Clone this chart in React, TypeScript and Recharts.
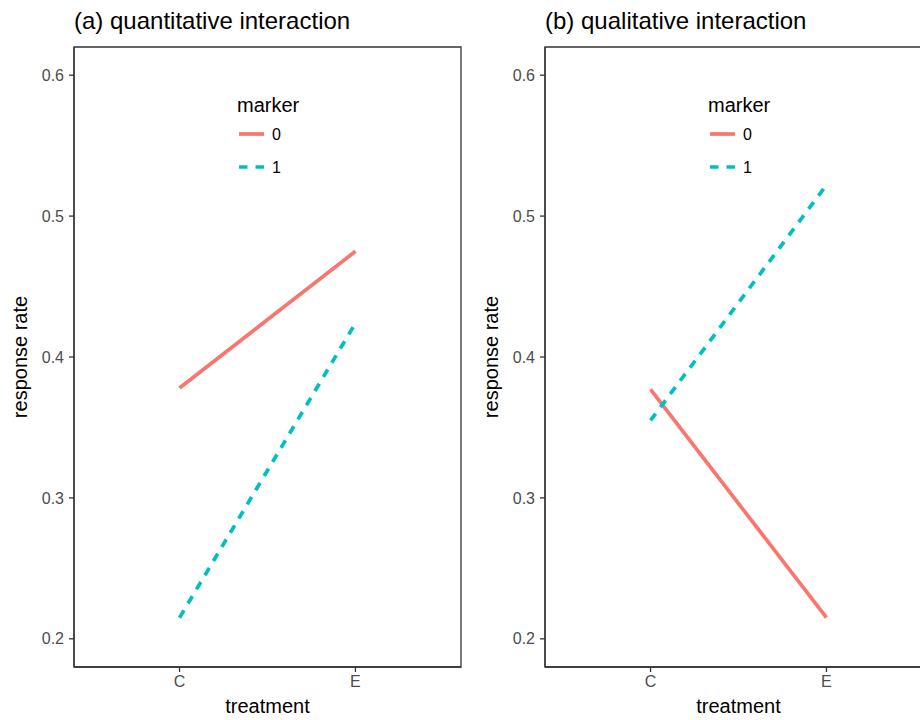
import { LineChart, Line, XAxis, YAxis, ReferenceArea, Legend } from "recharts";

const treatments = ["C", "E"];
const markers = ["0", "1"];
const yTicks = [0.2, 0.3, 0.4, 0.5, 0.6];

// (a) quantitative interaction
const quantMarker0 = [0.378, 0.475];
const quantMarker1 = [0.215, 0.424];
// (b) qualitative interaction
const qualMarker0 = [0.377, 0.215];
const qualMarker1 = [0.355, 0.522];

const FONT = '"Liberation Sans", Arial, Helvetica, sans-serif';
const RED = "#F8766D";
const TEAL = "#00BFC4";
const DARK = "#333333";
const TICK_GREY = "#4D4D4D";
const LINE_W = 3.7;

const seriesStyle = [
  { key: "m0", color: RED, dash: undefined as string | undefined },
  { key: "m1", color: TEAL, dash: "8.5 8" },
];

function buildRows(m0: number[], m1: number[]) {
  return treatments.map((t, i) => ({ pos: i + 1, treatment: t, m0: m0[i], m1: m1[i] }));
}

function MarkerLegend() {
  return (
    <svg width={90} height={95} style={{ overflow: "visible", fontFamily: FONT }}>
      <text x={0} y={22} fontSize={20} fill="#000">marker</text>
      {seriesStyle.map((s, i) => (
        <g key={s.key}>
          <line x1={2} x2={27} y1={44 + i * 33} y2={44 + i * 33} stroke={s.color} strokeWidth={LINE_W} strokeDasharray={s.dash} />
          <text x={35} y={50 + i * 33} fontSize={16} fill="#000">{markers[i]}</text>
        </g>
      ))}
    </svg>
  );
}

const xTitle = (props: any) => {
  const vb = props.viewBox;
  return (
    <text x={vb.x + vb.width / 2} y={vb.y + 46} textAnchor="middle" fontSize={20} fill="#000" fontFamily={FONT}>
      treatment
    </text>
  );
};

const yTitle = (props: any) => {
  const vb = props.viewBox;
  const cy = vb.y + vb.height / 2;
  return (
    <text x={27} y={cy} transform={`rotate(-90, 27, ${cy})`} textAnchor="middle" fontSize={20} fill="#000" fontFamily={FONT}>
      response rate
    </text>
  );
};

function Panel({ title, m0, m1, left }: { title: string; m0: number[]; m1: number[]; left: number }) {
  const rows = buildRows(m0, m1);
  return (
    <div style={{ position: "absolute", left, top: 0, width: 471, height: 720 }}>
      <div style={{ position: "absolute", left: 74, top: 9, fontSize: 24, lineHeight: "24px", fontFamily: FONT, color: "#000", whiteSpace: "nowrap" }}>
        {title}
      </div>
      <LineChart width={471} height={720} data={rows} margin={{ top: 47, right: 10, bottom: 0, left: 0 }} style={{ fontFamily: FONT }}>
        <ReferenceArea x1={0.4} x2={2.6} y1={0.18} y2={0.62} fill="none" stroke={DARK} strokeWidth={1.3} />
        <XAxis
          type="number"
          dataKey="pos"
          domain={[0.4, 2.6]}
          ticks={[1, 2]}
          interval={0}
          allowDataOverflow
          tickFormatter={(v: number) => treatments[v - 1]}
          height={53}
          tickSize={5}
          tickMargin={4}
          axisLine={{ stroke: DARK, strokeWidth: 1.3 }}
          tickLine={{ stroke: DARK, strokeWidth: 1.3 }}
          tick={{ fill: TICK_GREY, fontSize: 16 }}
          label={xTitle}
        />
        <YAxis
          type="number"
          domain={[0.18, 0.62]}
          ticks={yTicks}
          interval={0}
          allowDataOverflow
          tickFormatter={(v: number) => v.toFixed(1)}
          width={74}
          tickSize={5}
          tickMargin={5}
          axisLine={{ stroke: DARK, strokeWidth: 1.3 }}
          tickLine={{ stroke: DARK, strokeWidth: 1.3 }}
          tick={{ fill: TICK_GREY, fontSize: 16 }}
          label={yTitle}
        />
        {seriesStyle.map((s) => (
          <Line
            key={s.key}
            type="linear"
            dataKey={s.key}
            stroke={s.color}
            strokeWidth={LINE_W}
            strokeDasharray={s.dash}
            dot={false}
            activeDot={false}
            isAnimationActive={false}
          />
        ))}
        <Legend
          layout="vertical"
          align="center"
          verticalAlign="middle"
          content={<MarkerLegend />}
          wrapperStyle={{ left: 237, top: 90, width: 90, height: 95 }}
        />
      </LineChart>
    </div>
  );
}

export default function App() {
  return (
    <div style={{ position: "absolute", left: 0, top: 0, width: 920, height: 720, overflow: "hidden", background: "#fff" }}>
      <Panel title="(a) quantitative interaction" m0={quantMarker0} m1={quantMarker1} left={0} />
      <Panel title="(b) qualitative interaction" m0={qualMarker0} m1={qualMarker1} left={471} />
    </div>
  );
}
